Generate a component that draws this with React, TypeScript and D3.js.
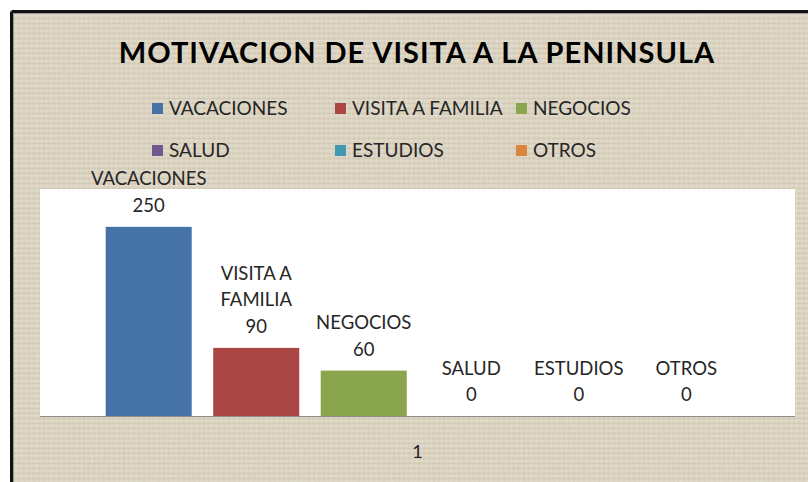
import React from "react";
import * as d3 from "d3";

const categories = ["1"];
const seriesNames = ["VACACIONES", "VISITA A FAMILIA", "NEGOCIOS", "SALUD", "ESTUDIOS", "OTROS"];
const seriesValues = [250, 90, 60, 0, 0, 0];
const seriesColors = ["#4572A7", "#AA4643", "#89A54E", "#71588F", "#4198AF", "#DB843D"];
const yTicks = [0, 300];

const W = 808;
const H = 482;
const FONT = "Lato, 'Liberation Sans', sans-serif";

// plot area
const plot = { left: 40, right: 795, top: 189, bottom: 416 };

// wrap data label text roughly like Excel does
function wrapLabel(name: string): string[] {
  const words = name.split(" ");
  if (words.length < 3) return [name];
  return [words.slice(0, -1).join(" "), words[words.length - 1]];
}

export default function App() {
  const x0 = d3
    .scaleBand<string>()
    .domain(categories)
    .range([plot.left, plot.right])
    .paddingInner(0.174)
    .paddingOuter(0.087);

  const x1 = d3
    .scaleBand<string>()
    .domain(seriesNames)
    .range([0, x0.bandwidth()])
    .paddingInner(0.2);

  const y = d3
    .scaleLinear()
    .domain([yTicks[0], yTicks[yTicks.length - 1]])
    .range([plot.bottom, plot.top]);

  const lineH = 26.5;

  // legend layout: 3 columns, 2 rows
  const legendCols = [152, 335, 516];
  const legendRows = [115, 157];

  return (
    <svg
      width={W}
      height={H}
      style={{ position: "fixed", left: 0, top: 0, display: "block" }}
      fontFamily={FONT}
    >
      <defs>
        <pattern id="weave" width="5" height="5" patternUnits="userSpaceOnUse">
          <rect width="5" height="5" fill="#ddd5c3" />
          <rect x="0" y="0" width="5" height="1.5" fill="#e5decf" />
          <rect x="0" y="3" width="5" height="1" fill="#d4cbb7" />
          <rect x="1" y="0" width="1" height="5" fill="#e3dccc" opacity="0.6" />
          <rect x="3.5" y="0" width="1" height="5" fill="#d2c9b5" opacity="0.5" />
        </pattern>
        <filter id="noise" x="0" y="0" width="100%" height="100%">
          <feTurbulence type="fractalNoise" baseFrequency="0.35 0.08" numOctaves="3" seed="7" />
          <feColorMatrix
            type="matrix"
            values="0 0 0 0 0.55  0 0 0 0 0.50  0 0 0 0 0.40  0 0 0 0.6 -0.05"
          />
        </filter>
      </defs>

      <rect width={W} height={H} fill="#ffffff" />

      {/* chart area with burlap-like texture */}
      <rect x={11} y={11} width={W} height={H} fill="url(#weave)" />
      <rect x={11} y={11} width={W} height={H} filter="url(#noise)" opacity={0.35} />

      {/* double border */}
      <line x1={11.5} y1={11.5} x2={W} y2={11.5} stroke="#111" strokeWidth={3} />
      <line x1={11.5} y1={11.5} x2={11.5} y2={H} stroke="#111" strokeWidth={3} />
      <line x1={13.5} y1={13.5} x2={W} y2={13.5} stroke="#9a9a9a" strokeWidth={1} />
      <line x1={13.5} y1={13.5} x2={13.5} y2={H} stroke="#9a9a9a" strokeWidth={1} />

      {/* title */}
      <text
        x={417}
        y={63}
        textAnchor="middle"
        fontSize={29}
        fontWeight="bold"
        letterSpacing={1}
        fill="#000"
      >
        MOTIVACION DE VISITA A LA PENINSULA
      </text>

      {/* legend */}
      {seriesNames.map((name, i) => {
        const col = legendCols[i % 3];
        const row = legendRows[Math.floor(i / 3)];
        return (
          <g key={name}>
            <rect x={col} y={row - 12} width={11} height={11} fill={seriesColors[i]} />
            <text x={col + 17} y={row} fontSize={19} fill="#262626">
              {name}
            </text>
          </g>
        );
      })}

      {/* plot area */}
      <rect
        x={plot.left}
        y={plot.top}
        width={plot.right - plot.left}
        height={plot.bottom - plot.top}
        fill="#ffffff"
      />

      {categories.map((cat) => (
        <g key={cat} transform={`translate(${x0(cat)},0)`}>
          {seriesNames.map((name, i) => {
            const v = seriesValues[i];
            const bx = x1(name) ?? 0;
            const cx = bx + x1.bandwidth() / 2;
            const top = y(v);
            const lines = [...wrapLabel(name), String(v)];
            return (
              <g key={name}>
                {v > 0 && (
                  <rect
                    x={bx}
                    y={top}
                    width={x1.bandwidth()}
                    height={y(0) - top}
                    fill={seriesColors[i]}
                  />
                )}
                {lines.map((t, k) => (
                  <text
                    key={k}
                    x={cx}
                    y={top - 15 - (lines.length - 1 - k) * lineH}
                    textAnchor="middle"
                    fontSize={18.5}
                    fill="#262626"
                  >
                    {t}
                  </text>
                ))}
              </g>
            );
          })}
          <text
            x={x0.bandwidth() / 2}
            y={458}
            textAnchor="middle"
            fontSize={18}
            fill="#262626"
          >
            {cat}
          </text>
        </g>
      ))}

      {/* category axis line */}
      <line
        x1={plot.left}
        x2={plot.right}
        y1={y(0) + 0.5}
        y2={y(0) + 0.5}
        stroke="#8c8c8c"
        strokeWidth={1}
      />
    </svg>
  );
}
